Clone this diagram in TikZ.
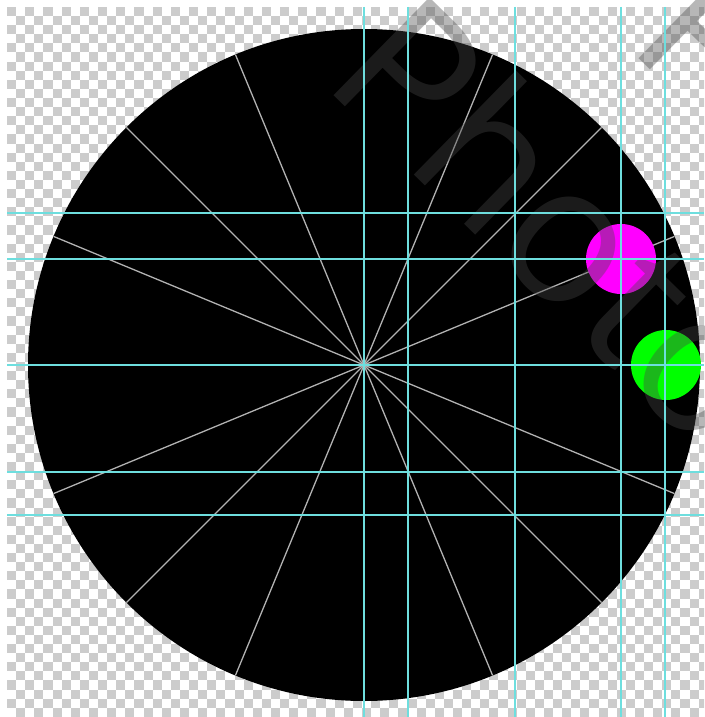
\documentclass[tikz,border=0pt]{standalone}
\usepackage{fontspec}
\newfontfamily\wmfont{Open Sans}
\usetikzlibrary{calc}
\definecolor{checkgray}{RGB}{204,204,204}
\definecolor{guidecyan}{RGB}{110,222,222}
\definecolor{spokegray}{RGB}{178,178,178}
\definecolor{wmgray}{RGB}{72,72,72}
\definecolor{dotmagenta}{RGB}{255,0,255}
\definecolor{dotgreen}{RGB}{0,255,0}
\tikzset{
  spoke/.style={spokegray,line width=1.3pt},
  guide/.style={guidecyan,line width=1.3pt},
  watermark/.style={font=\wmfont\fontsize{192}{192}\selectfont,text=wmgray,text opacity=0.39,
    inner sep=0pt,anchor=base west,rotate=-44.4}
}

\begin{document}
\begin{tikzpicture}[x=1pt,y=-1pt]
  \useasboundingbox (0,0) rectangle (704,717);
  \fill[white] (0,0) rectangle (704,717);
  % transparency checkerboard
  \begin{scope}
    \clip (7,7) rectangle (704,717);
    \foreach \i in {0,...,76}{
      \pgfmathtruncatemacro\off{mod(\i,2)}
      \foreach \j in {0,2,...,78}{
        \fill[checkgray] ({7+\i*9.1},{7+(\j+\off)*9.1}) rectangle ++(9.1,9.1);
      }
    }
  \end{scope}
  % disc and spokes
  \coordinate (C) at (364,365);
  \fill[black] (C) circle[radius=336];
  \foreach \a in {0,22.5,...,337.5}
    \draw[spoke] (C) -- ++(\a:336);
  % dots
  \fill[dotmagenta] (621,259) circle[radius=35];
  \fill[dotgreen] (666,365) circle[radius=35];
  % watermark
  \node[watermark] (wmA) at (320,82) {Photo};
  \node[watermark] (wmB) at (625,45) {Photo};
  % guides
  \foreach \x in {364,408,515,621,665}
    \draw[guide] (\x,7) -- (\x,717);
  \foreach \y in {213,259,365,472,515}
    \draw[guide] (7,\y) -- (704,\y);
\end{tikzpicture}
\end{document}
